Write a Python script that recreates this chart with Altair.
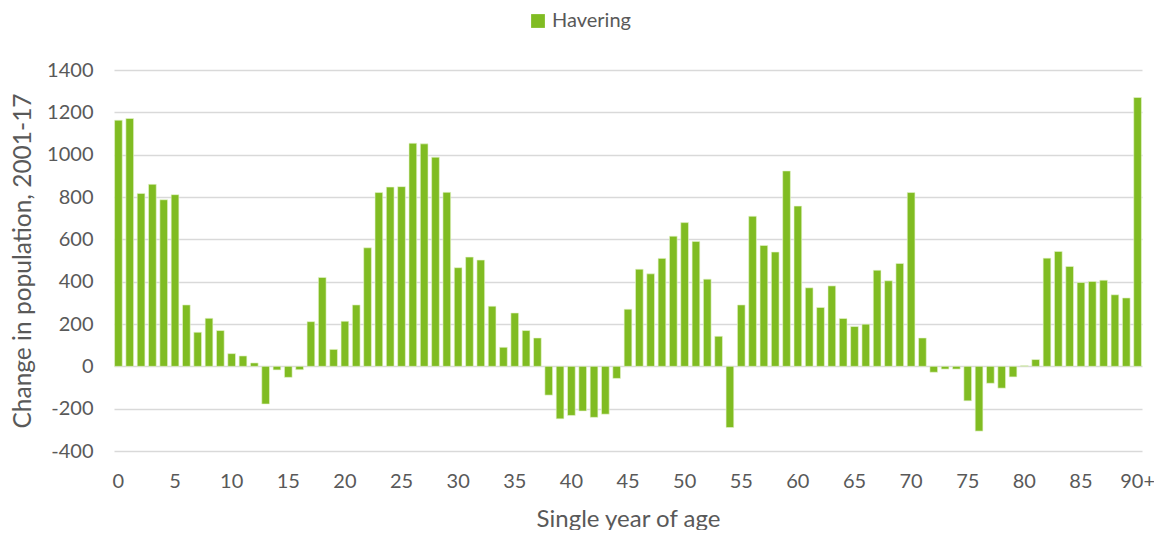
import altair as alt
import pandas as pd

ages = [str(i) for i in range(90)] + ["90+"]
values = [
    1163, 1171, 817, 860, 787, 811, 290, 161, 227, 169,
    60, 49, 16, -178, -17, -52, -16, 211, 420, 80,
    213, 290, 560, 821, 847, 849, 1054, 1051, 988, 822,
    466, 516, 502, 284, 90, 252, 169, 134, -136, -248,
    -232, -211, -241, -226, -57, 270, 459, 437, 510, 615,
    679, 590, 412, 142, -289, 290, 709, 571, 540, 923,
    757, 371, 278, 380, 226, 188, 199, 454, 404, 486,
    821, 134, -28, -13, -13, -163, -306, -80, -103, -50,
    3, 32, 511, 543, 472, 396, 401, 407, 338, 323,
    1270,
]
series = ["Havering"] * len(ages)
tick_labels = ["0", "5", "10", "15", "20", "25", "30", "35", "40", "45",
               "50", "55", "60", "65", "70", "75", "80", "85", "90+"]
y_ticks = list(range(-400, 1401, 200))

df = pd.DataFrame({"age": ages, "value": values, "series": series})

FONT = "Lato"
GREY = "#595959"

chart = alt.Chart(df).mark_bar(stroke="#e8f5d0", strokeWidth=0.6).encode(
    x=alt.X(
        "age:N",
        sort=ages,
        scale=alt.Scale(paddingInner=0.32, paddingOuter=0.05),
        axis=alt.Axis(
            title="Single year of age",
            values=tick_labels,
            labelAngle=0,
            ticks=False,
            domain=False,
            labelPadding=20,
            labelFontSize=20,
            labelColor=GREY,
            labelBound=False,
            labelOverlap=False,
            titleFontSize=24,
            titleFontWeight="normal",
            titleColor=GREY,
            titlePadding=16,
        ),
    ),
    y=alt.Y(
        "value:Q",
        scale=alt.Scale(domain=[-400, 1400], nice=False),
        axis=alt.Axis(
            title="Change in population, 2001-17",
            values=y_ticks,
            labelExpr="'' + datum.value",
            ticks=False,
            domain=False,
            labelPadding=21,
            labelFontSize=20,
            labelColor=GREY,
            titleFontSize=24.5,
            titleFontWeight="normal",
            titleColor=GREY,
            titlePadding=11,
            gridColor="#d9d9d9",
            gridWidth=1.5,
        ),
    ),
    color=alt.Color(
        "series:N",
        scale=alt.Scale(range=["#80bc22"]),
        legend=alt.Legend(
            title=None,
            orient="none",
            legendX=414,
            legendY=-59,
            symbolType="square",
            symbolSize=190,
            symbolStrokeWidth=0,
            labelFontSize=20,
            labelLimit=300,
            labelColor=GREY,
        ),
    ),
).properties(
    width=1028,
    height=381,
    autosize=alt.AutoSizeParams(type="none"),
    padding={"left": 106, "top": 62, "right": 12, "bottom": 79},
).configure(
    font=FONT,
).configure_view(
    stroke=None,
)

chart.save("out.html", embed_options={"renderer": "svg", "actions": False})
